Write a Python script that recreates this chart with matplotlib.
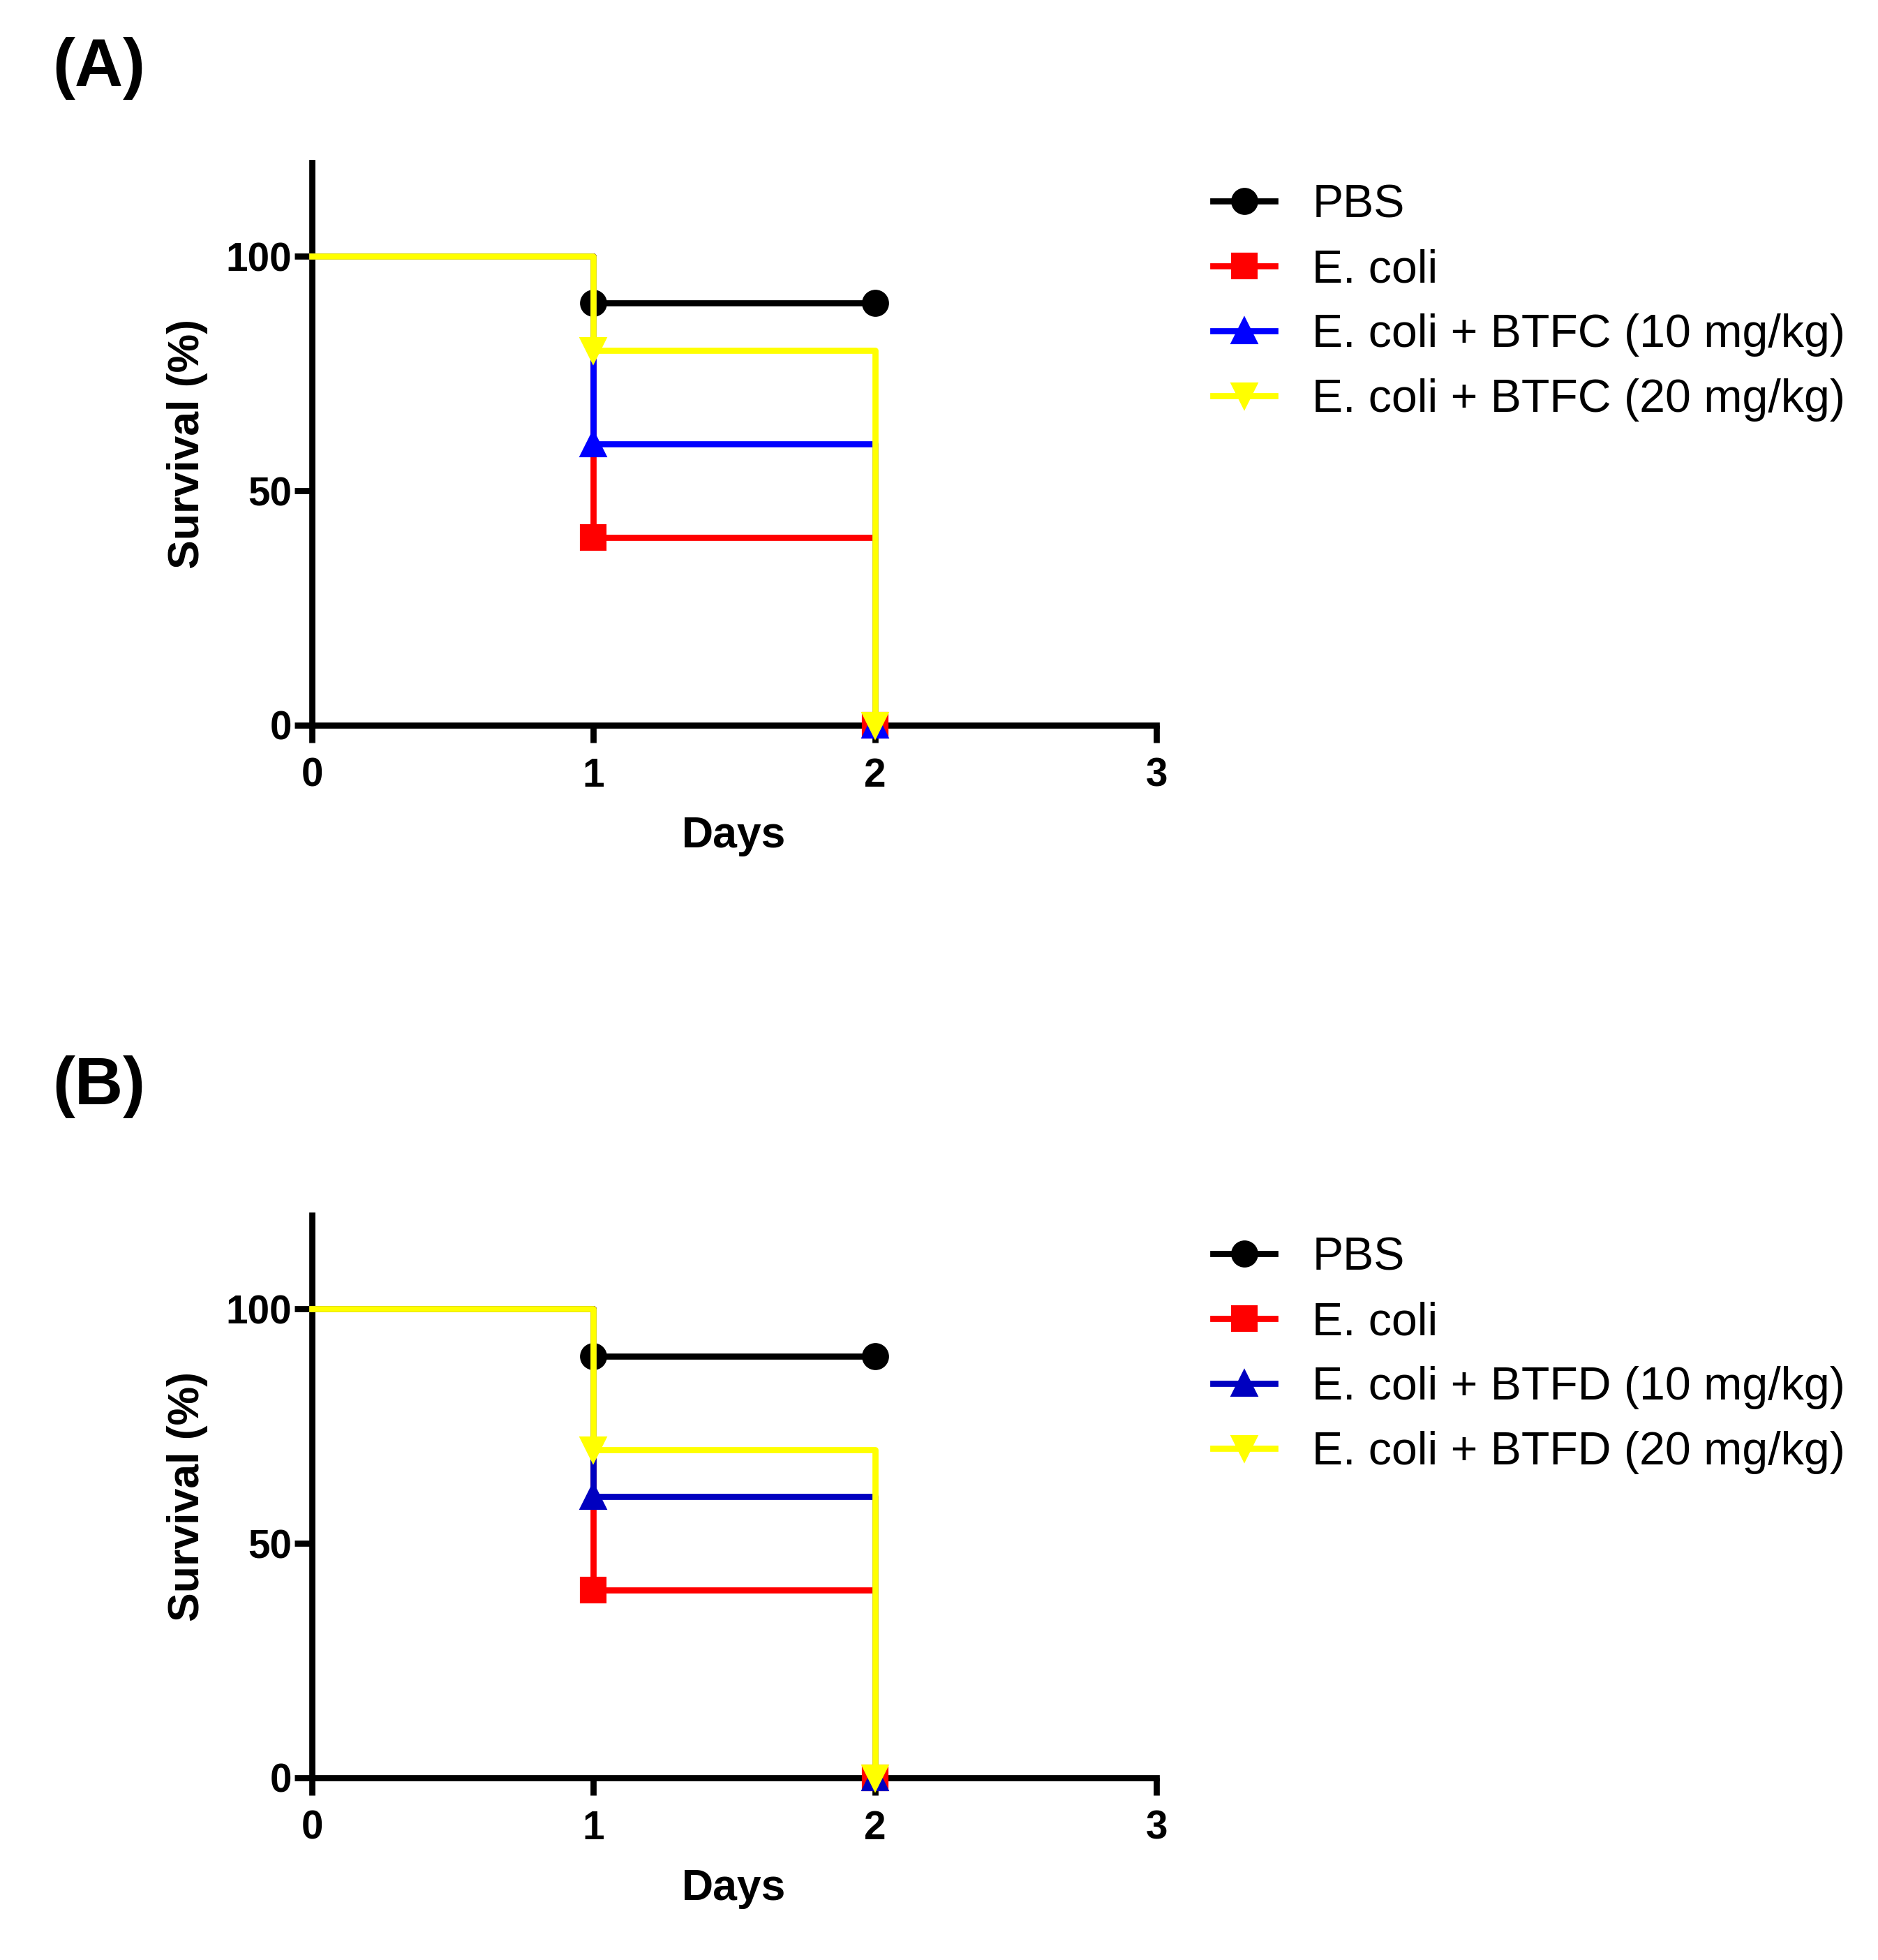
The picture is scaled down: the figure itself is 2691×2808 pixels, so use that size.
import matplotlib
matplotlib.use("Agg")
import matplotlib.pyplot as plt

plt.rcParams["font.family"] = ["Liberation Sans", "DejaVu Sans"]

# Survival data (days 0, 1, 2)
days = [0, 1, 2]
pbs = [100, 90, 90]
ecoli = [100, 40, 0]
btfc_10 = [100, 60, 0]
btfc_20 = [100, 80, 0]
btfd_10 = [100, 60, 0]
btfd_20 = [100, 70, 0]

labels_a = ["PBS", "E. coli", "E. coli + BTFC (10 mg/kg)", "E. coli + BTFC (20 mg/kg)"]
labels_b = ["PBS", "E. coli", "E. coli + BTFD (10 mg/kg)", "E. coli + BTFD (20 mg/kg)"]
markers = ["o", "s", "^", "v"]
colors_a = ["black", "#FF0000", "#0000FF", "#FFFF00"]
colors_b = ["black", "#FF0000", "#0000C0", "#FFFF00"]

W, H = 2691, 2808
fig = plt.figure(figsize=(W / 300, H / 300), dpi=300)


def draw_panel(rect, series, labels, colors, letter, letter_y, legend_y):
    ax = fig.add_axes(rect)
    for s, lab, m, c in zip(series, labels, markers, colors):
        ax.step(days, s, where="post", color=c, lw=2.1, marker=m, markersize=8.3,
                markevery=[1, 2], label=lab, clip_on=False, zorder=3)
    ax.set_xlim(0, 3)
    ax.set_ylim(0, 120)
    ax.set_xticks([0, 1, 2, 3])
    ax.set_yticks([0, 50, 100])
    for side in ["top", "right"]:
        ax.spines[side].set_visible(False)
    for side in ["left", "bottom"]:
        ax.spines[side].set_linewidth(2.1)
    ax.tick_params(width=2.1, length=6, labelsize=13.6)
    ax.tick_params(axis="y", pad=1)
    ax.tick_params(axis="x", pad=5)
    for t in ax.get_xticklabels() + ax.get_yticklabels():
        t.set_fontweight("bold")
    ax.set_xlabel("Days", fontsize=15, fontweight="bold", labelpad=7)
    ax.set_ylabel("Survival (%)", fontsize=15, fontweight="bold", labelpad=6)
    fig.text(75 / W, letter_y, letter, fontsize=23, fontweight="bold", va="center")
    ax.legend(loc="upper left", bbox_to_anchor=(1738 / W, legend_y),
              bbox_transform=fig.transFigure, frameon=False, fontsize=15.9,
              handlelength=1.35, handletextpad=0.8, labelspacing=0.47,
              borderpad=0, borderaxespad=0, numpoints=1)
    return ax


draw_panel([447 / W, 1 - 1039 / H, 1210 / W, 806 / H],
           [pbs, ecoli, btfc_10, btfc_20], labels_a, colors_a,
           "(A)", 1 - 98 / H, 1 - 263 / H)
draw_panel([447 / W, 1 - 2547 / H, 1210 / W, 806 / H],
           [pbs, ecoli, btfd_10, btfd_20], labels_b, colors_b,
           "(B)", 1 - 1557 / H, 1 - 1771 / H)

fig.savefig("out.png", dpi=300)
